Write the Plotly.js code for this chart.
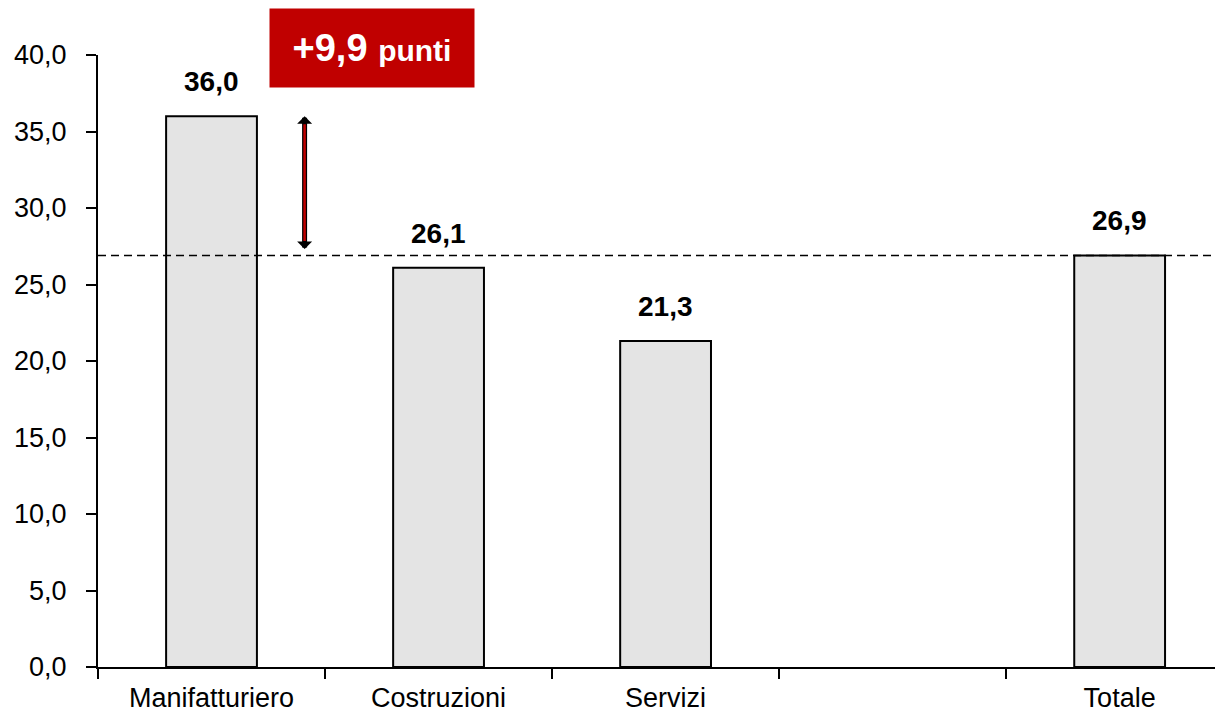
<!DOCTYPE html>
<html>
<head>
<meta charset="utf-8">
<script src="https://cdn.plot.ly/plotly-3.0.1.min.js"></script>
<style>html,body{margin:0;padding:0;background:#fff;}#chart{width:1215px;height:715px;}</style>
</head>
<body>
<div id="chart"></div>
<script>
// Data
const categories = ['Manifatturiero', 'Costruzioni', 'Servizi', ' ', 'Totale'];
const values = [36.0, 26.1, 21.3, null, 26.9];
const referenceValue = 26.9;   // Totale, dashed line
const gapLabel = '+9,9';
const gapUnit = 'punti';
const yTicks = [0, 5, 10, 15, 20, 25, 30, 35, 40];

const FONT = 'Liberation Sans, Arial, sans-serif';

const bar = {
  type: 'bar',
  x: categories,
  y: values,
  width: 0.4,
  marker: {color: '#e4e4e4', line: {color: '#000', width: 2}},
  hoverinfo: 'skip',
  showlegend: false
};

const annotations = [];
categories.forEach((c, i) => {
  if (values[i] === null) return;
  annotations.push({
    x: c, y: values[i], xref: 'x', yref: 'y',
    text: '<b>' + values[i].toFixed(1).replace('.', ',') + '</b>',
    showarrow: false, yanchor: 'bottom', yshift: 17,
    font: {family: FONT, size: 28, color: '#000'}
  });
});

// double-headed arrow between the reference line and Manifatturiero
const arrowX = 0.41;
annotations.push({
  x: arrowX, y: values[0], ax: arrowX, ay: referenceValue,
  xref: 'x', yref: 'y', axref: 'x', ayref: 'y',
  text: '', showarrow: true, arrowside: 'end+start',
  arrowhead: 1, startarrowhead: 1, arrowsize: 0.5, startarrowsize: 0.5,
  arrowwidth: 5, arrowcolor: '#000', standoff: 0, startstandoff: 5
});
annotations.push({
  x: arrowX, y: values[0], ax: arrowX, ay: referenceValue,
  xref: 'x', yref: 'y', axref: 'x', ayref: 'y',
  text: '', showarrow: true, arrowside: 'none',
  arrowhead: 0, arrowwidth: 2.5, arrowcolor: '#c00000', standoff: 8, startstandoff: 13
});

// red label box
annotations.push({
  xref: 'paper', yref: 'paper', x: 0.2453, y: 1.0114,
  xanchor: 'center', yanchor: 'middle',
  text: '<b>' + gapLabel + ' <span style="font-size:30px">' + gapUnit + '</span></b>',
  showarrow: false, bgcolor: '#c00000', borderpad: 0,
  width: 204, height: 78,
  font: {family: FONT, size: 38, color: '#fff'}
});

const layout = {
  width: 1215, height: 715,
  margin: {l: 98, r: 0, t: 55, b: 48},
  paper_bgcolor: '#fff', plot_bgcolor: '#fff',
  separators: ',.',
  font: {family: FONT, color: '#000'},
  xaxis: {
    type: 'category',
    categoryorder: 'array', categoryarray: categories,
    range: [-0.5, 4.42],
    showgrid: false, zeroline: false,
    showline: true, linecolor: '#000', linewidth: 2,
    ticks: 'outside', tickson: 'boundaries', ticklen: 10, tickwidth: 2, tickcolor: '#000',
    ticklabelstandoff: 6,
    tickfont: {family: FONT, size: 27, color: '#000'},
    fixedrange: true
  },
  yaxis: {
    range: [0, 40],
    tickvals: yTicks, tickformat: '.1f',
    showgrid: false, zeroline: false,
    showline: true, linecolor: '#000', linewidth: 2,
    ticks: 'outside', ticklen: 10, tickwidth: 2, tickcolor: '#000',
    ticklabelstandoff: 14,
    tickfont: {family: FONT, size: 27, color: '#000'},
    fixedrange: true
  },
  shapes: [{
    type: 'line', xref: 'paper', yref: 'y',
    x0: 0, x1: 1, y0: referenceValue, y1: referenceValue,
    line: {color: '#000', width: 1.5, dash: '8px,5px'}
  }],
  annotations: annotations,
  showlegend: false,
  bargap: 0.6
};

Plotly.newPlot('chart', [bar], layout, {displayModeBar: false, staticPlot: true});
</script>
</body>
</html>
